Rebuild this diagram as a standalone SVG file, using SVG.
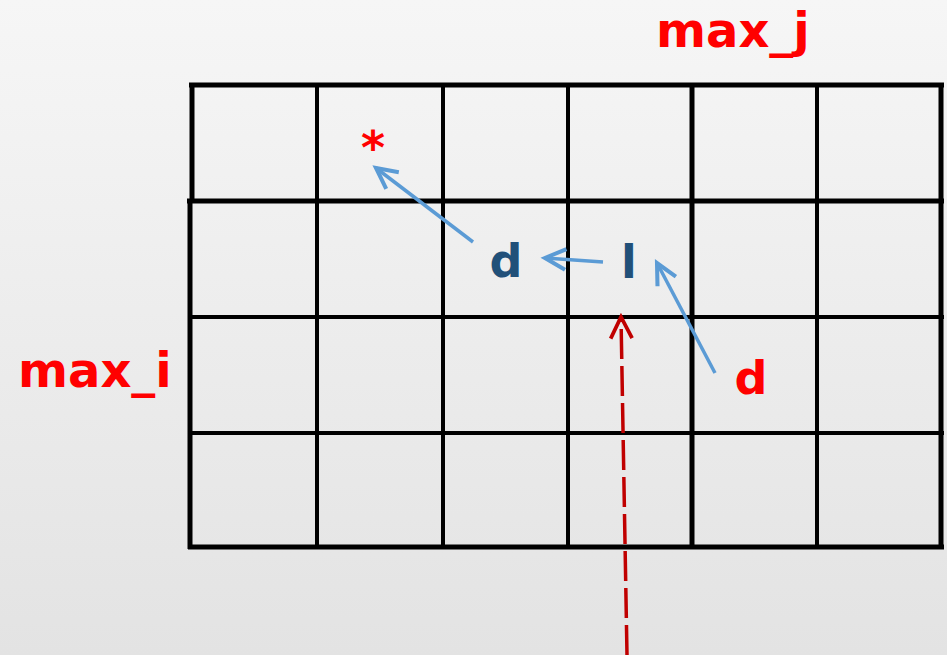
<svg xmlns="http://www.w3.org/2000/svg" width="947" height="655" viewBox="0 0 947 655">
  <defs>
    <linearGradient id="bg" x1="0" y1="0" x2="0" y2="1">
      <stop offset="0" stop-color="#f6f6f6"/>
      <stop offset="1" stop-color="#e3e3e3"/>
    </linearGradient>
    <marker id="headBlue" markerUnits="userSpaceOnUse" markerWidth="30" markerHeight="30" viewBox="-22 -12 26 24" refX="0" refY="0" orient="auto">
      <path d="M-18,-9 L0,0 L-18,9" fill="none" stroke="#5b9bd5" stroke-width="3.5"/>
    </marker>
    <marker id="headRed" markerUnits="userSpaceOnUse" markerWidth="30" markerHeight="30" viewBox="-24 -13 28 26" refX="0" refY="0" orient="auto">
      <path d="M-20,-10 L0,0 L-20,10" fill="none" stroke="#c00000" stroke-width="3.5"/>
    </marker>
  </defs>
  <style>
    .grid line { stroke: #000; }
    .thick { stroke-width: 5; }
    .thin { stroke-width: 4; }
    .lbl { font-family: "DejaVu Sans", "Liberation Sans", sans-serif; font-weight: bold; font-size: 46px; }
    .big { font-size: 48px; }
    .red { fill: #ff0000; }
    .blue { fill: #215079; }
    .barrow { stroke: #5b9bd5; stroke-width: 3.5; fill: none; marker-end: url(#headBlue); }
    .rarrow { stroke: #c00000; stroke-width: 3.5; fill: none; stroke-dasharray: 30 7; marker-end: url(#headRed); }
  </style>
  <rect width="947" height="655" fill="url(#bg)"/>

  <g id="grid" class="grid">
    <line class="thick" x1="189" y1="85" x2="944" y2="85"/>
    <line class="thick" x1="187" y1="201" x2="944" y2="201"/>
    <line class="thin" x1="190" y1="317" x2="944" y2="317"/>
    <line class="thin" x1="190" y1="433" x2="944" y2="433"/>
    <line class="thick" x1="188" y1="547" x2="944" y2="547"/>
    <line class="thick" x1="192" y1="83" x2="192" y2="203"/>
    <line class="thick" x1="190" y1="199" x2="190" y2="549"/>
    <line class="thin" x1="317" y1="83" x2="317" y2="549"/>
    <line class="thin" x1="443" y1="83" x2="443" y2="549"/>
    <line class="thin" x1="568" y1="83" x2="568" y2="549"/>
    <line class="thick" x1="692" y1="83" x2="692" y2="549"/>
    <line class="thin" x1="817" y1="83" x2="817" y2="549"/>
    <line class="thick" x1="941" y1="83" x2="941" y2="549"/>
  </g>

  <g id="label-max-j"><text class="lbl big red" x="656" y="47">max_j</text></g>
  <g id="label-max-i"><text class="lbl big red" x="18" y="387">max_i</text></g>
  <g id="node-star"><text class="lbl red" x="373" y="164" text-anchor="middle">*</text></g>
  <g id="node-d-blue"><text class="lbl blue" x="506" y="277" text-anchor="middle">d</text></g>
  <g id="node-l"><text class="lbl blue" x="629" y="278" text-anchor="middle">l</text></g>
  <g id="node-d-red"><text class="lbl red" x="751" y="394" text-anchor="middle">d</text></g>

  <g id="connectors">
    <line class="barrow" x1="473" y1="242" x2="376" y2="168"/>
    <line class="barrow" x1="603" y1="262" x2="545" y2="258"/>
    <line class="barrow" x1="715" y1="373" x2="657" y2="263"/>
    <line class="rarrow" x1="627" y1="655" x2="621" y2="317"/>
  </g>
</svg>
